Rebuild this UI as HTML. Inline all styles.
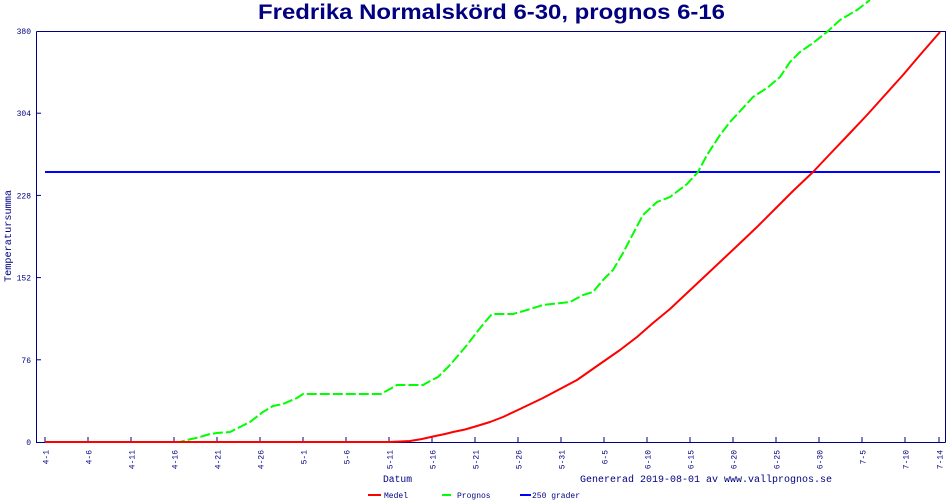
<!DOCTYPE html>
<html><head><meta charset="utf-8"><style>
html,body{margin:0;padding:0;background:#fff;}
svg{display:block;}
.t{font-family:"Liberation Mono",monospace;fill:#000080;}
</style></head><body>
<svg width="950" height="500" viewBox="0 0 950 500" xmlns="http://www.w3.org/2000/svg">
<rect width="950" height="500" fill="#fff"/>
<text x="258" y="19" font-family="Liberation Sans, Arial, sans-serif" font-weight="bold" font-size="21.5" fill="#000080" textLength="467" lengthAdjust="spacingAndGlyphs">Fredrika Normalskörd 6-30, prognos 6-16</text>
<!-- frame -->
<path d="M36.5 31.5 H945.5 V442.5 M36.5 31.5 V442.5 H945.5" fill="none" stroke="#000080" stroke-width="1"/>
<!-- y ticks -->
<g stroke="#000080" stroke-width="1">
<line x1="36" y1="359.8" x2="41" y2="359.8"/>
<line x1="36" y1="277.6" x2="41" y2="277.6"/>
<line x1="36" y1="195.4" x2="41" y2="195.4"/>
<line x1="36" y1="113.2" x2="41" y2="113.2"/>
</g>
<g class="t" font-size="8" text-anchor="end">
<text x="31" y="445">0</text>
<text x="31" y="362.8">76</text>
<text x="31" y="280.6">152</text>
<text x="31" y="198.4">228</text>
<text x="31" y="116.2">304</text>
<text x="31" y="34">380</text>
</g>
<!-- x ticks -->
<g stroke="#000080" stroke-width="1">
<line x1="45" y1="437" x2="45" y2="442"/><line x1="88" y1="437" x2="88" y2="442"/><line x1="131" y1="437" x2="131" y2="442"/><line x1="174" y1="437" x2="174" y2="442"/><line x1="217" y1="437" x2="217" y2="442"/><line x1="260" y1="437" x2="260" y2="442"/><line x1="303" y1="437" x2="303" y2="442"/><line x1="346" y1="437" x2="346" y2="442"/><line x1="389" y1="437" x2="389" y2="442"/><line x1="432" y1="437" x2="432" y2="442"/><line x1="475" y1="437" x2="475" y2="442"/><line x1="518" y1="437" x2="518" y2="442"/><line x1="561" y1="437" x2="561" y2="442"/><line x1="604" y1="437" x2="604" y2="442"/><line x1="647" y1="437" x2="647" y2="442"/><line x1="690" y1="437" x2="690" y2="442"/><line x1="733" y1="437" x2="733" y2="442"/><line x1="776" y1="437" x2="776" y2="442"/><line x1="819" y1="437" x2="819" y2="442"/><line x1="862" y1="437" x2="862" y2="442"/><line x1="905" y1="437" x2="905" y2="442"/><line x1="939" y1="437" x2="939" y2="442"/>
</g>
<g class="t" font-size="8" text-anchor="end">
<text transform="translate(48.5,450) rotate(-90)">4-1</text>
<text transform="translate(91.5,450) rotate(-90)">4-6</text>
<text transform="translate(134.5,450) rotate(-90)">4-11</text>
<text transform="translate(177.5,450) rotate(-90)">4-16</text>
<text transform="translate(220.5,450) rotate(-90)">4-21</text>
<text transform="translate(263.5,450) rotate(-90)">4-26</text>
<text transform="translate(306.5,450) rotate(-90)">5-1</text>
<text transform="translate(349.5,450) rotate(-90)">5-6</text>
<text transform="translate(392.5,450) rotate(-90)">5-11</text>
<text transform="translate(435.5,450) rotate(-90)">5-16</text>
<text transform="translate(478.5,450) rotate(-90)">5-21</text>
<text transform="translate(521.5,450) rotate(-90)">5-26</text>
<text transform="translate(564.5,450) rotate(-90)">5-31</text>
<text transform="translate(607.5,450) rotate(-90)">6-5</text>
<text transform="translate(650.5,450) rotate(-90)">6-10</text>
<text transform="translate(693.5,450) rotate(-90)">6-15</text>
<text transform="translate(736.5,450) rotate(-90)">6-20</text>
<text transform="translate(779.5,450) rotate(-90)">6-25</text>
<text transform="translate(822.5,450) rotate(-90)">6-30</text>
<text transform="translate(865.5,450) rotate(-90)">7-5</text>
<text transform="translate(908.5,450) rotate(-90)">7-10</text>
<text transform="translate(942.5,450) rotate(-90)">7-14</text>
</g>
<!-- axis titles -->
<text class="t" font-size="10" transform="translate(11,282) rotate(-90)" textLength="92" lengthAdjust="spacingAndGlyphs">Temperatursumma</text>
<text class="t" font-size="10" x="383" y="482" textLength="29" lengthAdjust="spacingAndGlyphs">Datum</text>
<text class="t" font-size="10" x="580" y="482" textLength="252" lengthAdjust="spacingAndGlyphs">Genererad 2019-08-01 av www.vallprognos.se</text>
<!-- blue line -->
<line x1="45" y1="172" x2="940" y2="172" stroke="#0000ff" stroke-width="2"/>
<!-- green prognos -->
<polyline fill="none" stroke="#00ff00" stroke-width="2" stroke-dasharray="10 3" points="45,442 180,442 187,440 200,437 210,434 217,433 230,432 240,427 250,422 263,412 273,406 283,404 297,398 303,394 381,394 390,389 397,385 423,385 432,380 438,377 450,365 467,345 477,332 485,322 492,314 513,314 527,310 543,305 570,302 583,295 593,292 603,280 613,270 623,253 635,230 643,215 657,202 670,197 687,184 698,172 707,155 720,135 730,122 743,108 753,97 767,88 780,77 790,62 800,52 813,43 827,32 840,20 857,10 870,0"/>
<!-- red medel -->
<polyline fill="none" stroke="#ff0000" stroke-width="2" stroke-linejoin="round" points="45,442 389,442 400,441.5 410,441 422,439 433,436.5 445,434 453,432 465,429.5 477,426 490,422 503,417 520,409 543,398 560,389 577,380 597,366 620,350 637,337 653,323 670,309 687,293 703,278 720,262 737,246 757,227 775,209 793,191 813,172 830,154 850,133 867,115 885,95 903,75 920,55 940,32"/>
<!-- legend -->
<line x1="368" y1="495" x2="381" y2="495" stroke="#ff0000" stroke-width="2"/>
<text class="t" font-size="8" x="384" y="498">Medel</text>
<line x1="442" y1="495" x2="451" y2="495" stroke="#00ff00" stroke-width="2"/>
<text class="t" font-size="8" x="457" y="498">Prognos</text>
<line x1="520" y1="495" x2="531" y2="495" stroke="#0000ff" stroke-width="2"/>
<text class="t" font-size="8" x="532" y="498">250 grader</text>
</svg>
</body></html>
